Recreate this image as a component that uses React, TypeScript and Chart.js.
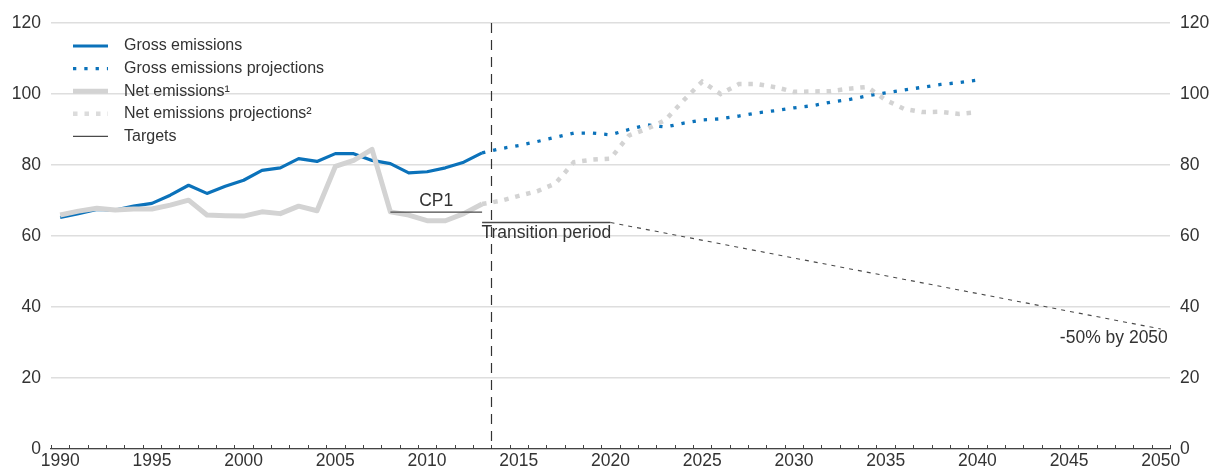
import React, { useEffect, useRef } from 'react';
import { Chart, registerables } from 'chart.js';

Chart.register(...registerables);

const FONT = '"Liberation Sans", Arial, Helvetica, sans-serif';
const TEXT = '#333333';
const BLUE = '#0b72ba';
const GREY = '#d3d3d3';
const TARGET = '#4a4a4a';

// Category labels (one per year) and the years that carry a printed tick label
const YEARS: string[] = Array.from({ length: 61 }, (_, i) => String(1990 + i));
const LABELED_YEARS = ['1990', '1995', '2000', '2005', '2010', '2015', '2020', '2025', '2030', '2035', '2040', '2045', '2050'];
const Y_MIN = 0;
const Y_MAX = 120;
const Y_STEP = 20;

// Historical series 1990-2013
const HIST_YEARS = ['1990', '1991', '1992', '1993', '1994', '1995', '1996', '1997', '1998', '1999', '2000', '2001',
  '2002', '2003', '2004', '2005', '2006', '2007', '2008', '2009', '2010', '2011', '2012', '2013'];
const GROSS = [65.2, 66.3, 67.5, 67.3, 68.4, 69.2, 71.5, 74.3, 72.0, 74.0, 75.7, 78.5,
  79.2, 81.8, 81.0, 83.2, 83.2, 81.3, 80.4, 77.8, 78.1, 79.2, 80.8, 83.4];
const NET = [65.9, 67.0, 67.8, 67.3, 67.6, 67.6, 68.7, 70.1, 65.9, 65.7, 65.6, 66.8,
  66.3, 68.4, 67.1, 79.6, 81.3, 84.4, 66.8, 65.9, 64.3, 64.3, 66.3, 69.0];

// Projections 2013-2040
const PROJ_YEARS = ['2013', '2014', '2015', '2016', '2017', '2018', '2019', '2020', '2021', '2022', '2023', '2024', '2025', '2026',
  '2027', '2028', '2029', '2030', '2031', '2032', '2033', '2034', '2035', '2036', '2037', '2038', '2039', '2040'];
const GROSS_PROJ = [83.4, 84.6, 85.5, 86.6, 87.8, 89.0, 89.0, 88.5, 90.0, 91.3, 90.7, 91.8, 92.7, 93.0,
  93.8, 94.7, 95.3, 96.1, 96.7, 97.7, 98.4, 99.5, 100.3, 101.1, 101.9, 102.7, 103.2, 103.9];
const NET_PROJ = [69.0, 69.9, 71.3, 72.6, 74.8, 80.8, 81.5, 81.8, 88.3, 90.2, 92.7, 98.3, 103.5, 100.0,
  102.8, 102.8, 101.9, 100.6, 100.7, 100.8, 101.5, 102.0, 98.3, 95.8, 94.9, 95.0, 94.4, 94.9];

// Targets
const CP1_YEARS = ['2008', '2013'];
const CP1_VALUES = [66.7, 66.7];
const TRANSITION_YEARS = ['2013', '2020'];
const TRANSITION_VALUES = [63.8, 63.8];
const PATHWAY_YEARS = ['2020', '2050'];
const PATHWAY_VALUES = [63.8, 33.8];

const DIVIDER_AFTER_YEAR = '2013';

const LEGEND_ITEMS = [
  { label: 'Gross emissions', color: BLUE, width: 3.2, dash: [] as number[] },
  { label: 'Gross emissions projections', color: BLUE, width: 3.3, dash: [3.3, 8] },
  { label: 'Net emissions\u00B9', color: GREY, width: 5, dash: [] as number[] },
  { label: 'Net emissions projections\u00B2', color: '#dcdcdc', width: 4.5, dash: [4.5, 7] },
  { label: 'Targets', color: TARGET, width: 1.3, dash: [] as number[] },
];

const pts = (xs: string[], ys: number[]) => xs.map((x, i) => ({ x, y: ys[i] }));

const extrasPlugin = {
  id: 'extras',
  afterDatasetsDraw(chart: any) {
    const { ctx, chartArea, scales } = chart;
    const xs = scales.x;
    const ys = scales.y;
    ctx.save();

    // tick marks at category boundaries (pointing up into the plot)
    ctx.strokeStyle = '#444';
    ctx.lineWidth = 1;
    for (let i = 0; i <= YEARS.length; i++) {
      const tx = Math.round(xs.getPixelForValue(i - 0.5)) + 0.5;
      ctx.beginPath();
      ctx.moveTo(tx, chartArea.bottom);
      ctx.lineTo(tx, chartArea.bottom - 4);
      ctx.stroke();
    }

    // vertical dashed divider
    const dIdx = YEARS.indexOf(DIVIDER_AFTER_YEAR) + 0.5;
    const dx = Math.round(xs.getPixelForValue(dIdx)) + 0.5;
    ctx.strokeStyle = '#333';
    ctx.lineWidth = 1.2;
    ctx.setLineDash([10, 7]);
    ctx.beginPath();
    ctx.moveTo(dx, chartArea.top);
    ctx.lineTo(dx, chartArea.bottom);
    ctx.stroke();
    ctx.setLineDash([]);

    // annotations
    ctx.fillStyle = TEXT;
    ctx.font = `17.5px ${FONT}`;
    ctx.textBaseline = 'middle';

    const cpX = (xs.getPixelForValue(YEARS.indexOf(CP1_YEARS[0])) + xs.getPixelForValue(YEARS.indexOf(CP1_YEARS[1]))) / 2;
    ctx.textAlign = 'center';
    ctx.fillText('CP1', cpX, ys.getPixelForValue(CP1_VALUES[0]) - 11);

    const trX = (xs.getPixelForValue(YEARS.indexOf(TRANSITION_YEARS[0])) + xs.getPixelForValue(YEARS.indexOf(TRANSITION_YEARS[1]))) / 2;
    ctx.fillText('Transition period', trX, ys.getPixelForValue(TRANSITION_VALUES[0]) + 11);

    const endX = xs.getPixelForValue(YEARS.indexOf(PATHWAY_YEARS[1]));
    ctx.textAlign = 'right';
    ctx.fillText('-50% by 2050', endX + 7, ys.getPixelForValue(PATHWAY_VALUES[1]) + 9);

    ctx.restore();
  },
  afterDraw(chart: any) {
    const { ctx } = chart;
    ctx.save();
    ctx.font = `16px ${FONT}`;
    ctx.textBaseline = 'middle';
    ctx.textAlign = 'left';
    LEGEND_ITEMS.forEach((it, i) => {
      const y = 46 + i * 22.6;
      ctx.strokeStyle = it.color;
      ctx.lineWidth = it.width;
      ctx.lineCap = 'butt';
      ctx.setLineDash(it.dash);
      ctx.beginPath();
      ctx.moveTo(73, y);
      ctx.lineTo(108, y);
      ctx.stroke();
      ctx.setLineDash([]);
      ctx.fillStyle = TEXT;
      ctx.fillText(it.label, 124, y);
    });
    ctx.restore();
  },
};

export default function App() {
  const canvasRef = useRef<HTMLCanvasElement | null>(null);

  useEffect(() => {
    const canvas = canvasRef.current;
    if (!canvas) return;
    const tickFont = { family: FONT, size: 17.5 };
    const chart = new Chart(canvas, {
      type: 'line',
      data: {
        labels: YEARS,
        datasets: [
          { label: 'CP1', data: pts(CP1_YEARS, CP1_VALUES), borderColor: TARGET, borderWidth: 1.3, order: 0 },
          { label: 'Transition period', data: pts(TRANSITION_YEARS, TRANSITION_VALUES), borderColor: TARGET, borderWidth: 1.3, order: 0 },
          { label: '-50% by 2050', data: pts(PATHWAY_YEARS, PATHWAY_VALUES), borderColor: TARGET, borderWidth: 1.1, borderDash: [4, 5], order: 0 },
          { label: 'Net emissions projections', data: pts(PROJ_YEARS, NET_PROJ), borderColor: GREY, borderWidth: 4.5, borderDash: [4.5, 6.8], borderCapStyle: 'butt', order: 1 },
          { label: 'Net emissions', data: pts(HIST_YEARS, NET), borderColor: GREY, borderWidth: 5, borderJoinStyle: 'round', order: 1 },
          { label: 'Gross emissions projections', data: pts(PROJ_YEARS, GROSS_PROJ), borderColor: BLUE, borderWidth: 3.3, borderDash: [3.3, 8], borderCapStyle: 'butt', order: 2 },
          { label: 'Gross emissions', data: pts(HIST_YEARS, GROSS), borderColor: BLUE, borderWidth: 3.2, borderJoinStyle: 'round', order: 2 },
        ] as any,
      },
      options: {
        responsive: false,
        animation: false,
        layout: { padding: { top: 23, left: 0, right: 0, bottom: 0 } },
        elements: { point: { radius: 0 }, line: { tension: 0, fill: false } },
        plugins: { legend: { display: false }, tooltip: { enabled: false } },
        scales: {
          x: {
            type: 'category',
            labels: YEARS,
            offset: true,
            grid: { display: false, offset: true, drawTicks: false },
            border: { display: true, color: '#444', width: 1.2 },
            ticks: {
              autoSkip: false,
              maxRotation: 0,
              minRotation: 0,
              padding: 2,
              color: TEXT,
              font: tickFont,
              callback: (_v: any, index: number) => (LABELED_YEARS.includes(YEARS[index]) ? YEARS[index] : ''),
            },
            afterFit: (s: any) => { s.height = 21; },
          },
          y: {
            position: 'left',
            min: Y_MIN,
            max: Y_MAX,
            ticks: { stepSize: Y_STEP, padding: 10, color: TEXT, font: tickFont },
            grid: { color: '#dedede', lineWidth: 1.5, drawTicks: false },
            border: { display: false },
            afterFit: (s: any) => { s.width = 51; },
          },
          y2: {
            position: 'right',
            min: Y_MIN,
            max: Y_MAX,
            ticks: { stepSize: Y_STEP, padding: 10, color: TEXT, font: tickFont },
            grid: { display: false, drawTicks: false },
            border: { display: false },
            afterFit: (s: any) => { s.width = 44; },
          },
        },
      } as any,
      plugins: [extrasPlugin],
    });
    return () => chart.destroy();
  }, []);

  return (
    <div style={{ position: 'fixed', left: 0, top: 0, width: 1214, height: 470, background: '#fff' }}>
      <canvas ref={canvasRef} width={1214} height={470} style={{ display: 'block' }} />
    </div>
  );
}
